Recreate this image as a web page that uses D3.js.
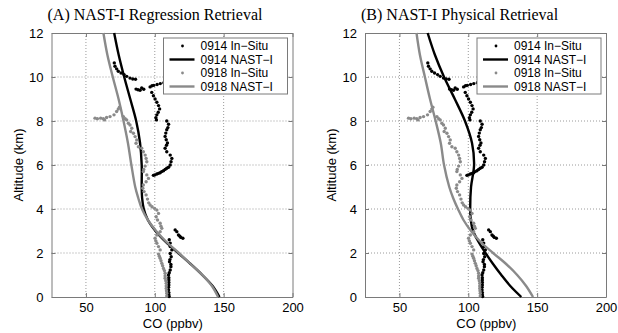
<!DOCTYPE html>
<html>
<head>
<meta charset="utf-8">
<script src="https://cdn.jsdelivr.net/npm/d3@7"></script>
<style>
  body { margin: 0; background: #fff; }
  svg { display: block; }
</style>
</head>
<body>
<svg id="chart" width="618" height="333"></svg>
<script>
// tick values
const xTicks = [50, 100, 150, 200];
const yTicks = [0, 2, 4, 6, 8, 10, 12];

const titles = ["(A) NAST-I Regression Retrieval", "(B) NAST-I Physical Retrieval"];
const legendLabels = ["0914 In\u2212Situ", "0914 NAST\u2212I", "0918 In\u2212Situ", "0918 NAST\u2212I"];

// in-situ profiles [CO ppbv, altitude km] (same in both panels)
const insitu0914 = [
  [70.6,10.64],[71.1,10.49],[72.3,10.37],[73.5,10.26],[75.5,10.18],[77.7,10.11],[79.6,10.03],[82,9.95],[84,9.91],[86,9.9],
  [86.4,9.45],[87.8,9.42],[89.3,9.4],[90.5,9.5],[92,9.44],
  [96.6,9.55],[98,9.6],[99.3,9.62],[101.7,9.66],[104,9.7],[106.6,9.74],[109,9.77],[112.7,9.8],
  [97.8,9.3],[99,9.15],[100.2,9.0],[101.5,8.85],[102.7,8.7],[103.5,8.55],[102.5,8.4],[101.5,8.28],[100.8,8.15],[101.2,8.05],
  [108.7,8.0],[110,7.85],[109.5,7.7],[108.7,7.6],[108,7.45],[107.5,7.3],[108.3,7.15],[109.2,7.0],[108.5,6.9],[107.5,6.76],
  [108.7,6.6],[111.2,6.45],[112.4,6.3],[111.8,6.15],[111.2,6.0],[110,5.9],[108.7,5.85],[107.5,5.8],[106.3,5.74],[105,5.7],
  [103.9,5.65],[102.7,5.62],[101.5,5.59],[100,5.55],[99,5.53],
  [114.8,3.05],[116,2.97],[117.2,2.82],[118.2,2.76],[118.9,2.71],[120.4,2.67],
  [110.5,2.6],[111.2,2.45],[111.2,2.29],[112.4,2.14],[111.2,1.98],[111.9,1.83],[111,1.7],[110.7,1.6],[111.7,1.48],[111.7,1.38],
  [111.2,1.23],[110.5,1.1],[110,1.0],[110.2,0.88],[110.2,0.77],[110.2,0.66],[110.2,0.55],[110,0.44],[110,0.32],[110.2,0.2],
  [110.2,0.1],[110.4,0.02]
];
const insitu0918 = [
  [56.6,8.13],[58.3,8.1],[60.7,8.13],[62.6,8.1],[63.5,8.05],[65,8.16],[67.5,8.2],[70.4,8.28],[72.3,8.43],[73.5,8.54],[74.3,8.63],
  [77.2,8.2],[78.5,8.1],[79.6,8.05],[80.8,7.9],[82,7.82],[83.3,7.67],[82.5,7.52],[84.5,7.44],[85.7,7.29],[86.9,7.14],
  [86.4,6.99],[88.1,6.83],[90.5,6.76],[91.7,6.6],[93,6.45],[93.7,6.3],[94.2,6.15],[93,5.95],[92,5.8],[91.7,5.7],
  [94.2,5.55],[95.4,5.39],[93.7,5.24],[91.7,5.09],[91.3,4.94],[92.2,4.79],[93.7,4.64],[94.7,4.45],[95.6,4.28],[96.6,4.18],
  [98,4.1],[99.8,4.03],[101.5,3.95],[102.7,3.8],[101,3.65],[102,3.5],[103.9,3.35],[104.5,3.22],[105.1,3.12],[103.9,2.97],
  [101.5,2.82],[100.2,2.67],[100.8,2.55],[101.5,2.44],[102.7,2.29],[103.9,2.14],[102.7,1.95],[103.3,1.85],[103.9,1.76],
  [104.5,1.65],[105.1,1.53],[105.7,1.42],[106.3,1.3],[107,1.2],[107.5,1.08],[107.5,0.96],[107.5,0.85],[108,0.74],
  [108.3,0.62],[108.3,0.5],[108.3,0.39],[108.5,0.28],[108.7,0.17],[108.7,0.05]
];

// retrieved profiles [CO ppbv, altitude km]
const nastA0914 = [
  [147,0],[142,0.5],[134.5,1],[126,1.5],[117,2],[108,2.5],[100.5,3],[95,3.5],[92,4],[90.8,4.5],[90.5,5],[90.5,6],
  [89.3,7],[86.5,8],[82.2,9],[77.8,10],[73.8,11],[70.5,12]
];
const nastA0918 = [
  [146,0],[141.5,0.5],[134.5,1],[126,1.5],[117.5,2],[108.5,2.5],[101,3],[95,3.5],[90.7,4],[88,4.5],[85.8,5],[83,6],
  [80.5,7],[77.3,8],[73.7,9],[69.5,10],[65.6,11],[62.7,12]
];
const nastB0914 = [
  [138.5,0],[130.5,0.5],[124,1],[118,1.5],[112.5,2],[107.5,2.5],[103.5,3],[101.8,3.5],[101.4,4],[102,5],[104.2,6],
  [102.7,7],[97.6,8],[90.2,9],[82.4,10],[75.8,11],[70.5,12]
];
const nastB0918 = [
  [147,0],[142,0.5],[135.5,1],[127.5,1.5],[118,2],[109,2.5],[102,3],[96.5,3.5],[92.5,4],[89,4.5],[86.2,5],[82.4,6],
  [80,7],[76.3,8],[72.2,9],[68.5,10],[64.9,11],[62.4,12]
];

const black = "#000";
const grey = "#8a8a8a";
const frameColor = "#7a7a7a";

const svg = d3.select("#chart");

const panels = [
  { left: 51.5, title: titles[0], lines: [nastA0914, nastA0918] },
  { left: 365, title: titles[1], lines: [nastB0914, nastB0918] }
];

panels.forEach(p => drawPanel(p));

function drawPanel(p) {
  const top = 33, width = 241, height = 264;
  const g = svg.append("g").attr("transform", `translate(${p.left},${top})`);

  const x = d3.scaleLinear().domain([25, 200]).range([0, width]);
  const y = d3.scaleLinear().domain([0, 12]).range([height, 0]);

  //dotted grid
  g.append("g").selectAll("line")
    .data(xTicks.filter(d => d < 200))
    .enter().append("line")
    .attr("x1", d => x(d)).attr("x2", d => x(d))
    .attr("y1", 0).attr("y2", height)
    .attr("stroke", "#9a9a9a").attr("stroke-dasharray", "1,2");
  g.append("g").selectAll("line")
    .data(yTicks.filter(d => d > 0 && d < 12))
    .enter().append("line")
    .attr("x1", 0).attr("x2", width)
    .attr("y1", d => y(d)).attr("y2", d => y(d))
    .attr("stroke", "#9a9a9a").attr("stroke-dasharray", "1,2");

  //axes with inward ticks
  const axisStyle = sel => {
    sel.select(".domain").attr("stroke", frameColor);
    sel.selectAll(".tick line").attr("stroke", frameColor);
    sel.selectAll(".tick text")
      .attr("fill", "#000")
      .style("font-family", "'Liberation Sans', Arial, sans-serif")
      .style("font-size", "13px");
  };
  g.append("g")
    .attr("transform", `translate(0,${height})`)
    .call(d3.axisBottom(x).tickValues(xTicks).tickSizeInner(-4).tickSizeOuter(0).tickPadding(6))
    .call(axisStyle);
  g.append("g")
    .call(d3.axisLeft(y).tickValues(yTicks).tickSizeInner(-4).tickSizeOuter(0).tickPadding(8))
    .call(axisStyle);
  g.append("g")
    .call(d3.axisTop(x).tickValues(xTicks).tickSizeInner(-4).tickSizeOuter(0))
    .call(axisStyle)
    .call(s => s.selectAll(".tick text").remove());
  g.append("g")
    .attr("transform", `translate(${width},0)`)
    .call(d3.axisRight(y).tickValues(yTicks).tickSizeInner(-4).tickSizeOuter(0))
    .call(axisStyle)
    .call(s => s.selectAll(".tick text").remove());

  const line = d3.line()
    .x(d => x(d[0]))
    .y(d => y(d[1]))
    .curve(d3.curveCatmullRom);

  //plot order: 0914 in-situ, 0914 NAST-I, 0918 in-situ, 0918 NAST-I
  g.append("g").selectAll("circle")
    .data(insitu0914).enter().append("circle")
    .attr("cx", d => x(d[0])).attr("cy", d => y(d[1]))
    .attr("r", 1.7).attr("fill", black);

  g.append("path").datum(p.lines[0])
    .attr("fill", "none").attr("stroke", black).attr("stroke-width", 2.4)
    .attr("d", line);

  g.append("g").selectAll("circle")
    .data(insitu0918).enter().append("circle")
    .attr("cx", d => x(d[0])).attr("cy", d => y(d[1]))
    .attr("r", 1.7).attr("fill", grey);

  g.append("path").datum(p.lines[1])
    .attr("fill", "none").attr("stroke", grey).attr("stroke-width", 2.4)
    .attr("d", line);

  //axis labels
  g.append("text")
    .attr("x", x(100) + 18)
    .attr("y", height + 31)
    .attr("text-anchor", "middle")
    .style("font-family", "'Liberation Sans', Arial, sans-serif")
    .style("font-size", "13px")
    .text("CO (ppbv)");

  g.append("text")
    .attr("transform", "rotate(-90)")
    .attr("x", -height / 2)
    .attr("y", -29)
    .attr("text-anchor", "middle")
    .style("font-family", "'Liberation Sans', Arial, sans-serif")
    .style("font-size", "13px")
    .text("Altitude (km)");

  //title
  g.append("text")
    .attr("x", -4)
    .attr("y", -13)
    .style("font-family", "'Liberation Serif', 'Times New Roman', serif")
    .style("font-size", "16px")
    .text(p.title);

  //legend
  const lg = g.append("g").attr("transform", `translate(${width - 129},5)`);
  lg.append("rect")
    .attr("width", 124).attr("height", 56)
    .attr("fill", "#fff").attr("stroke", frameColor);

  const rows = [
    { type: "dot", color: black },
    { type: "line", color: black },
    { type: "dot", color: grey },
    { type: "line", color: grey }
  ];
  rows.forEach((r, i) => {
    const ry = 8 + i * 13.5;
    if (r.type === "dot") {
      lg.append("circle").attr("cx", 19).attr("cy", ry).attr("r", 1.4).attr("fill", r.color);
    } else {
      lg.append("line").attr("x1", 6).attr("x2", 31).attr("y1", ry).attr("y2", ry)
        .attr("stroke", r.color).attr("stroke-width", 2.4);
    }
    lg.append("text")
      .attr("x", 37).attr("y", ry + 4.2)
      .style("font-family", "'Liberation Sans', Arial, sans-serif")
      .style("font-size", "12px")
      .text(legendLabels[i]);
  });
}
</script>
</body>
</html>
